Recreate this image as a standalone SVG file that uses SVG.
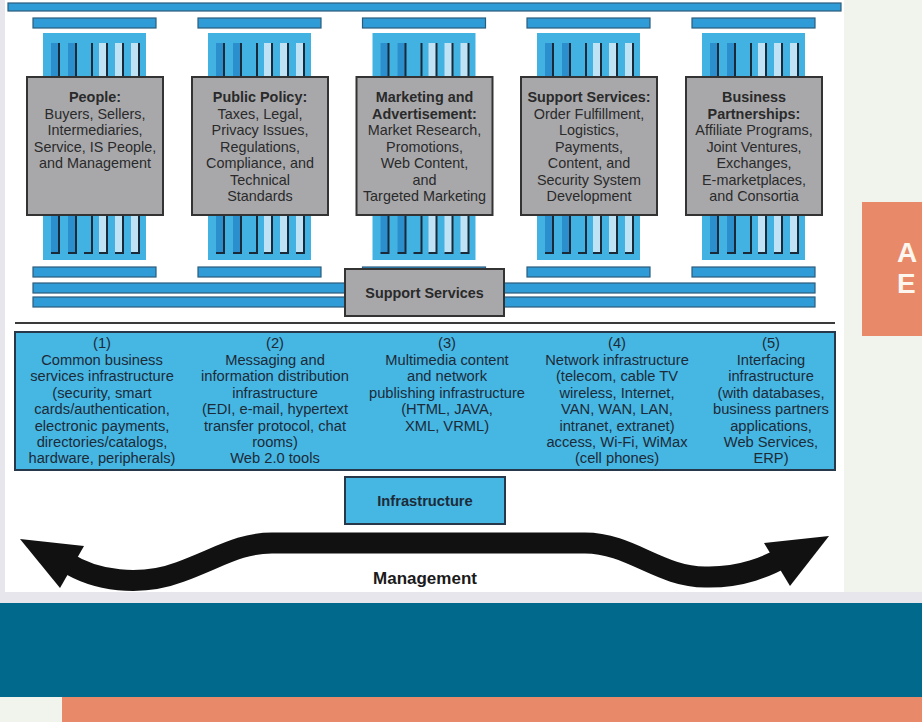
<svg xmlns="http://www.w3.org/2000/svg" width="922" height="722" viewBox="0 0 922 722">
<style>
.bar{fill:#2f9bd7;stroke:#2b5c7c;stroke-width:1.2}
.shaft{fill:#42b2e3}
.sd{fill:#2c8fcd}
.sl{fill:#bfe2f4}
.fl{fill:none;stroke:#1b2a38;stroke-width:2}
.box{fill:#a8a8ab;stroke:#333;stroke-width:2}
.bt{font-family:"Liberation Sans",Arial,sans-serif;font-size:14.4px;fill:#2a2a2a;text-anchor:middle}
.b{font-weight:bold}
.it{font-family:"Liberation Sans",Arial,sans-serif;font-size:14.7px;fill:#1d2b38;text-anchor:middle}
.ibox{fill:#46b6e3;stroke:#26384a;stroke-width:2}
</style>
<defs>
<g id="pillar">
<rect class="bar" x="6" y="18" width="123" height="10"/>
<rect class="shaft" x="16" y="33" width="103" height="227"/>
<rect class="sd" x="24" y="43" width="8" height="34"/>
<rect class="sd" x="41" y="43" width="8" height="34"/>
<rect class="sl" x="72" y="43" width="8" height="34"/>
<rect class="sl" x="88" y="43" width="8" height="34"/>
<rect class="sl" x="104" y="43" width="8" height="34"/>
<rect class="sd" x="24" y="215" width="8" height="38"/>
<rect class="sd" x="41" y="215" width="8" height="38"/>
<rect class="sl" x="72" y="215" width="8" height="38"/>
<rect class="sl" x="88" y="215" width="8" height="38"/>
<rect class="sl" x="104" y="215" width="8" height="38"/>
<path class="fl" d="M32 43V77M49 43V77M65 43V77M80 43V77M96 43V77M112 43V77"/>
<path class="fl" d="M32 215V253H24M49 215V253H41M65 215V253H57M80 215V253H72M96 215V253H88M112 215V253H104"/>
<rect class="bar" x="6" y="267" width="123" height="10"/>
<rect class="box" x="0" y="77" width="136" height="138"/>
</g>
</defs>
<rect x="0" y="0" width="922" height="722" fill="#f1f4ec"/>
<rect x="0" y="0" width="844" height="593" fill="#ffffff"/>
<rect x="0" y="0" width="5" height="600" fill="#e6e6ec"/>
<rect x="0" y="592" width="922" height="12" fill="#e6e6ec"/>
<rect x="0" y="603" width="922" height="94" fill="#00698c"/>
<rect x="62" y="697" width="860" height="25" fill="#e8896a"/>
<g id="side-card">
<rect x="862" y="202" width="60" height="134" fill="#e8896a"/>
<text x="897" y="262" font-family="Liberation Sans,Arial,sans-serif" font-weight="bold" font-size="28" fill="#fdf6ee">A</text>
<text x="897" y="293" font-family="Liberation Sans,Arial,sans-serif" font-weight="bold" font-size="28" fill="#fdf6ee">E</text>
</g>
<g id="roof"><rect class="bar" x="8" y="3" width="833" height="8"/></g>
<g id="floor-bars">
<rect class="bar" x="33" y="283" width="782" height="10"/>
<rect class="bar" x="33" y="297" width="782" height="10"/>
</g>
<g id="pillar-people" transform="translate(27,0)">
<use href="#pillar"/>
<text class="bt" x="68"><tspan class="b" x="68" y="102">People:</tspan><tspan x="68" y="118.5">Buyers, Sellers,</tspan><tspan x="68" y="135">Intermediaries,</tspan><tspan x="68" y="151.5">Service, IS People,</tspan><tspan x="68" y="168">and Management</tspan></text>
</g>
<g id="pillar-policy" transform="translate(192,0)">
<use href="#pillar"/>
<text class="bt" x="68"><tspan class="b" x="68" y="102">Public Policy:</tspan><tspan x="68" y="118.5">Taxes, Legal,</tspan><tspan x="68" y="135">Privacy Issues,</tspan><tspan x="68" y="151.5">Regulations,</tspan><tspan x="68" y="168">Compliance, and</tspan><tspan x="68" y="184.5">Technical</tspan><tspan x="68" y="201">Standards</tspan></text>
</g>
<g id="pillar-marketing" transform="translate(356.5,0)">
<use href="#pillar"/>
<text class="bt" x="68"><tspan class="b" x="68" y="102">Marketing and</tspan><tspan class="b" x="68" y="118.5">Advertisement:</tspan><tspan x="68" y="135">Market Research,</tspan><tspan x="68" y="151.5">Promotions,</tspan><tspan x="68" y="168">Web Content,</tspan><tspan x="68" y="184.5">and</tspan><tspan x="68" y="201">Targeted Marketing</tspan></text>
</g>
<g id="pillar-support" transform="translate(521,0)">
<use href="#pillar"/>
<text class="bt" x="68"><tspan class="b" x="68" y="102">Support Services:</tspan><tspan x="68" y="118.5">Order Fulfillment,</tspan><tspan x="68" y="135">Logistics,</tspan><tspan x="68" y="151.5">Payments,</tspan><tspan x="68" y="168">Content, and</tspan><tspan x="68" y="184.5">Security System</tspan><tspan x="68" y="201">Development</tspan></text>
</g>
<g id="pillar-partners" transform="translate(686,0)">
<use href="#pillar"/>
<text class="bt" x="68"><tspan class="b" x="68" y="102">Business</tspan><tspan class="b" x="68" y="118.5">Partnerships:</tspan><tspan x="68" y="135">Affiliate Programs,</tspan><tspan x="68" y="151.5">Joint Ventures,</tspan><tspan x="68" y="168">Exchanges,</tspan><tspan x="68" y="184.5">E-marketplaces,</tspan><tspan x="68" y="201">and Consortia</tspan></text>
</g>
<g id="support-services">
<rect class="box" x="345" y="269" width="159" height="47"/>
<text class="bt b" x="424.5" y="298" fill="#2e2e2e">Support Services</text>
</g>
<line x1="15" y1="323" x2="835" y2="323" stroke="#3a3a3a" stroke-width="2"/>
<g id="infrastructure-layers">
<rect class="ibox" x="15" y="332" width="820" height="138"/>
<text class="it"><tspan x="102" y="348">(1)</tspan><tspan x="102" y="364.5">Common business</tspan><tspan x="102" y="381">services infrastructure</tspan><tspan x="102" y="397.5">(security, smart</tspan><tspan x="102" y="414">cards/authentication,</tspan><tspan x="102" y="430.5">electronic payments,</tspan><tspan x="102" y="447">directories/catalogs,</tspan><tspan x="102" y="463">hardware, peripherals)</tspan></text>
<text class="it"><tspan x="275" y="348">(2)</tspan><tspan x="275" y="364.5">Messaging and</tspan><tspan x="275" y="381">information distribution</tspan><tspan x="275" y="397.5">infrastructure</tspan><tspan x="275" y="414">(EDI, e-mail, hypertext</tspan><tspan x="275" y="430.5">transfer protocol, chat</tspan><tspan x="275" y="447">rooms)</tspan><tspan x="275" y="463">Web 2.0 tools</tspan></text>
<text class="it"><tspan x="447" y="348">(3)</tspan><tspan x="447" y="364.5">Multimedia content</tspan><tspan x="447" y="381">and network</tspan><tspan x="447" y="397.5">publishing infrastructure</tspan><tspan x="447" y="414">(HTML, JAVA,</tspan><tspan x="447" y="430.5">XML, VRML)</tspan></text>
<text class="it"><tspan x="617" y="348">(4)</tspan><tspan x="617" y="364.5">Network infrastructure</tspan><tspan x="617" y="381">(telecom, cable TV</tspan><tspan x="617" y="397.5">wireless, Internet,</tspan><tspan x="617" y="414">VAN, WAN, LAN,</tspan><tspan x="617" y="430.5">intranet, extranet)</tspan><tspan x="617" y="447">access, Wi-Fi, WiMax</tspan><tspan x="617" y="463">(cell phones)</tspan></text>
<text class="it"><tspan x="771" y="348">(5)</tspan><tspan x="771" y="364.5">Interfacing</tspan><tspan x="771" y="381">infrastructure</tspan><tspan x="771" y="397.5">(with databases,</tspan><tspan x="771" y="414">business partners</tspan><tspan x="771" y="430.5">applications,</tspan><tspan x="771" y="447">Web Services,</tspan><tspan x="771" y="463">ERP)</tspan></text>
</g>
<g id="infrastructure">
<rect class="ibox" x="345" y="477" width="160" height="47"/>
<text class="it b" x="425" y="506" font-size="14.5" fill="#1c2a36">Infrastructure</text>
</g>
<g id="connectors">
<path d="M66 562 C95 581,140 587,180 572 S240 543,272 543 L585 543 C630 543,660 577,705 577 C742 578,768 566,786 556" fill="none" stroke="#111" stroke-width="21"/>
<polygon points="20,539 84,546 60,588" fill="#111"/>
<polygon points="829,536 764,543 790,586" fill="#111"/>
</g>
<g id="management">
<text x="425" y="584" font-family="Liberation Sans,Arial,sans-serif" font-weight="bold" font-size="17" fill="#1a1a1a" text-anchor="middle">Management</text>
</g>
</svg>
